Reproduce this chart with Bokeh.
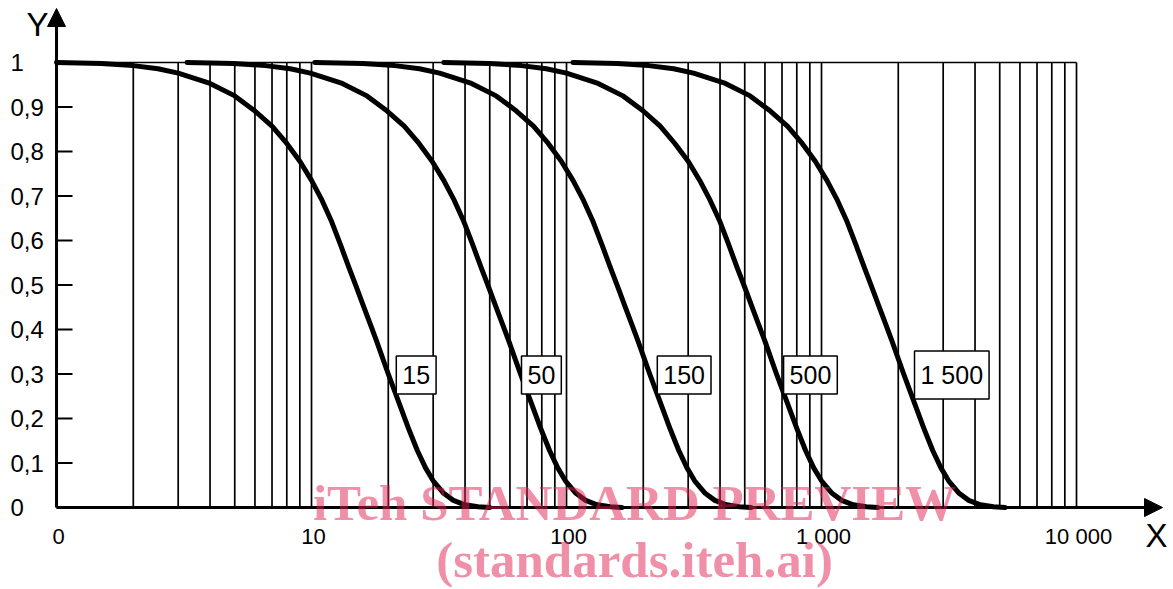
from bokeh.plotting import figure
from bokeh.models import Range1d, Label, Arrow, NormalHead
from bokeh.embed import file_html
from bokeh.resources import INLINE

# ---------------- data ----------------
y_ticks = [0, 0.1, 0.2, 0.3, 0.4, 0.5, 0.6, 0.7, 0.8, 0.9, 1.0]
y_tick_labels = ["0", "0,1", "0,2", "0,3", "0,4", "0,5", "0,6", "0,7", "0,8", "0,9", "1"]
x_ticks = [1, 10, 100, 1000, 10000]
x_tick_labels = ["0", "10", "100", "1 000", "10 000"]
decades = [1, 10, 100, 1000]
multipliers = [2, 3, 4, 5, 6, 7, 8, 9, 10]

# values of Y (shared sampling levels)
y_curve = [1.0, 0.998, 0.993, 0.986, 0.976, 0.953, 0.925, 0.891, 0.857, 0.818,
           0.778, 0.735, 0.69, 0.642, 0.59, 0.54, 0.495, 0.452, 0.412, 0.374,
           0.30, 0.236, 0.178, 0.128, 0.089, 0.06, 0.032, 0.016, 0.006, 0.0015, 0.0]

x_15 = [1, 1.5, 2, 2.5, 3, 4, 5, 6, 7, 8,
        9, 10, 11, 12, 13, 14, 15, 16, 17, 18,
        20, 22, 24, 26, 28, 30, 33, 36, 40, 45, 50]
x_50 = [3.25, 4.95, 6.6, 8.25, 9.9, 13.2, 16.5, 19.8, 23.1, 26.4,
        29.7, 33, 36.3, 39.6, 42.9, 46.2, 49.5, 52.8, 56.1, 59.4,
        66, 72.6, 79.2, 85.8, 92.4, 99, 108.9, 118.8, 132, 148.5, 165]
x_150 = [10.3, 15.9, 21.2, 26.5, 31.8, 42.4, 53, 63.6, 74.2, 84.8,
         95.4, 106, 116.6, 127.2, 137.8, 148.4, 159, 169.6, 180.2, 190.8,
         212, 233.2, 254.4, 275.6, 296.8, 318, 349.8, 381.6, 424, 477, 530]
x_500 = [33, 50, 66.6, 83.3, 100, 133, 166.5, 200, 233, 266,
         300, 333, 366, 400, 433, 466, 500, 533, 566, 600,
         666, 733, 800, 866, 932, 1000, 1100, 1200, 1332, 1500, 1665]
x_1500 = [106, 158, 210, 263, 315, 420, 525, 630, 735, 840,
          945, 1050, 1155, 1260, 1365, 1470, 1575, 1680, 1785, 1890,
          2100, 2310, 2520, 2730, 2940, 3150, 3465, 3780, 4200, 4725, 5250]

series_x = [x_15, x_50, x_150, x_500, x_1500]
series_names = ["15", "50", "150", "500", "1 500"]
label_x = [21.5, 66.6, 227, 710, 2316]
label_y = 0.298

grid_x = [d * m for d in decades for m in multipliers]

FONT = "Liberation Sans"

# frame covers the whole canvas; everything is placed through the data scales
X0, X1 = 0.603, 24010
Y0, Y1 = -0.18427, 1.13933
p = figure(width=1173, height=589, x_axis_type="log",
           x_axis_location=None, y_axis_location=None,
           x_range=Range1d(X0, X1), y_range=Range1d(Y0, Y1),
           output_backend="svg", toolbar_location=None,
           min_border_left=0, min_border_right=0, min_border_top=0, min_border_bottom=0)
p.outline_line_color = None
p.grid.visible = False
p.background_fill_color = "white"
p.border_fill_color = "white"

# vertical grid lines and top line
p.segment(x0=grid_x, x1=grid_x, y0=[0] * len(grid_x), y1=[1] * len(grid_x),
          line_color="black", line_width=1.7)
p.segment(x0=[x_ticks[0]], x1=[x_ticks[-1]], y0=[1], y1=[1], line_color="black", line_width=1.7)

# y ticks (inside, to the right of the axis)
tick_len = 10 ** (16 / 255)
p.segment(x0=[x_ticks[0]] * len(y_ticks), x1=[x_ticks[0] * tick_len] * len(y_ticks),
          y0=y_ticks, y1=y_ticks, line_color="black", line_width=2)

# curves
for xs in series_x:
    p.line(x=xs, y=y_curve, line_color="black", line_width=5, line_cap="round", line_join="round")

# boxed labels
for lx, name in zip(label_x, series_names):
    p.add_layout(Label(x=lx, y=label_y, text=name, text_align="left", text_baseline="middle",
                       text_font=FONT, text_font_size="25px", text_color="black",
                       border_line_color="black", border_line_width=1.5,
                       background_fill_color="white",
                       padding=dict(left=6, right=6, top=10, bottom=10)))

# axes with arrows
head_y = NormalHead(size=18, fill_color="black", line_color="black")
head_x = NormalHead(size=18, fill_color="black", line_color="black")
p.add_layout(Arrow(x_start=1, y_start=0, x_end=1, y_end=1.1213, line_width=3, line_color="black",
                   end=head_y))
p.add_layout(Arrow(x_start=1, y_start=0, x_end=21740, y_end=0, line_width=3, line_color="black",
                   end=head_x))

# y tick labels
for v, s in zip(y_ticks, y_tick_labels):
    p.add_layout(Label(x=0.66, y=v, text=s, text_align="left", text_baseline="middle",
                       text_font=FONT, text_font_size="24px", text_color="black"))

# x tick labels
for t, s in zip(x_ticks, x_tick_labels):
    p.add_layout(Label(x=t, y=-0.0652, x_offset=2, text=s, text_align="center",
                       text_baseline="middle",
                       text_font=FONT, text_font_size="22px", text_color="black"))

# axis names
p.add_layout(Label(x=0.843, y=1.0854, text="Y", text_align="center", text_baseline="middle",
                   text_font=FONT, text_font_size="33px", text_color="black"))
p.add_layout(Label(x=20590, y=-0.0618, text="X", text_align="center", text_baseline="middle",
                   text_font=FONT, text_font_size="33px", text_color="black"))

# watermark
for txt, yy in [("iTeh STANDARD PREVIEW", 0.0101), ("(standards.iteh.ai)", -0.119)]:
    p.add_layout(Label(x=184.8, y=yy, text=txt, text_align="center", text_baseline="middle",
                       text_font="Liberation Serif", text_font_style="bold", text_font_size="51px",
                       text_color="#E01F52", text_alpha=0.5))

open("out.html", "w").write(file_html(p, INLINE))
